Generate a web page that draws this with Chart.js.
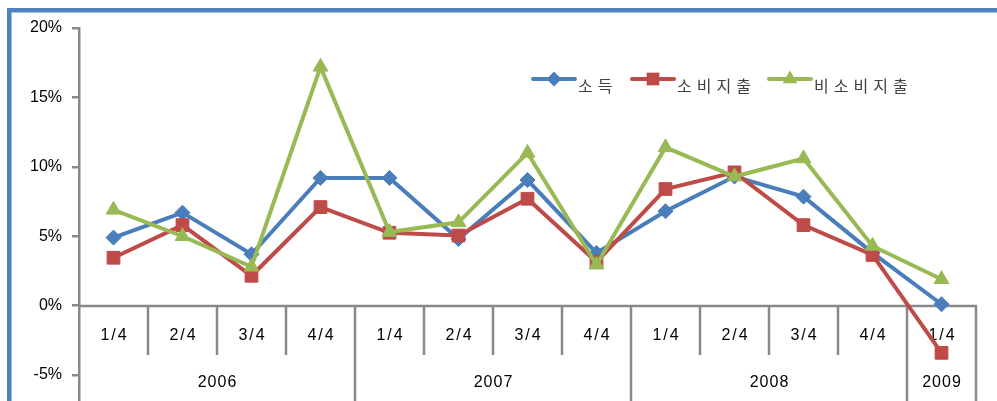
<!DOCTYPE html>
<html>
<head>
<meta charset="utf-8">
<script src="https://cdn.jsdelivr.net/npm/chart.js@4/dist/chart.umd.min.js"></script>
<style>
  html, body { margin: 0; padding: 0; background: #fff; overflow: hidden; }
  #wrap { position: relative; width: 997px; height: 401px; }
</style>
</head>
<body>
<div id="wrap"><canvas id="c" width="997" height="401"></canvas></div>
<script>
// Quarterly growth rates (%), 2006 Q1 – 2009 Q1
const quarters = ['1/4', '2/4', '3/4', '4/4', '1/4', '2/4', '3/4', '4/4', '1/4', '2/4', '3/4', '4/4', '1/4'];
const years = ['2006', '2007', '2008', '2009'];
const yearSpans = [4, 4, 4, 1];
const income = [4.9, 6.7, 3.7, 9.2, 9.2, 4.8, 9.05, 3.8, 6.8, 9.3, 7.85, 3.8, 0.1];
const consumption = [3.45, 5.8, 2.15, 7.1, 5.25, 5.05, 7.7, 3.15, 8.4, 9.6, 5.8, 3.65, -3.4];
const nonConsumption = [6.9, 5.0, 2.8, 17.2, 5.3, 6.0, 11.0, 2.95, 11.4, 9.3, 10.6, 4.3, 1.9];
const seriesNames = ['소득', '소비지출', '비소비지출'];
const yTicks = [-5, 0, 5, 10, 15, 20];

const BLUE = '#4a7ebb';
const RED = '#be4b48';
const GREEN = '#98b954';
const GRAY = '#898989';
const FRAME = '#4f81bd';
const LATIN = '"Liberation Sans", Arial, sans-serif';
const HANGUL = '"Noto Sans CJK KR", "Noto Sans", sans-serif';

const styles = [
  { color: BLUE, point: 'rectRot', radius: 7.5 },
  { color: RED, point: 'rect', radius: 9 },
  { color: GREEN, point: 'triangle', radius: 8.5 }
];

// left edge of each legend entry
const legendStarts = [533, 632, 769];

function makeDataset(i, values) {
  const s = styles[i];
  return {
    label: seriesNames[i],
    data: values,
    borderColor: s.color,
    backgroundColor: s.color,
    borderWidth: 4,
    pointStyle: s.point,
    pointRadius: s.radius,
    pointBackgroundColor: s.color,
    pointBorderColor: s.color,
    pointBorderWidth: 1,
    tension: 0,
    clip: false,
    order: 3 - i
  };
}

// Blue frame along the top and left edges
const framePlugin = {
  id: 'frame',
  beforeDraw(chart) {
    const ctx = chart.ctx;
    ctx.save();
    ctx.fillStyle = '#ffffff';
    ctx.fillRect(0, 0, chart.width, chart.height);
    ctx.fillStyle = FRAME;
    ctx.fillRect(7, 8, chart.width - 7, 4.5);
    ctx.fillRect(7, 8, 4.5, chart.height - 8);
    ctx.restore();
  }
};

// Two-level category axis crossing the value axis at 0
const categoryAxisPlugin = {
  id: 'categoryAxis',
  beforeDatasetsDraw(chart) {
    const ctx = chart.ctx;
    const xs = chart.scales.x;
    const ys = chart.scales.y;
    const area = chart.chartArea;
    const y0 = Math.round(ys.getPixelForValue(0));
    const n = quarters.length;
    const step = xs.getPixelForValue(1) - xs.getPixelForValue(0);
    const edge = i => xs.getPixelForValue(0) - step / 2 + i * step;

    const yearEdges = [0];
    yearSpans.forEach(s => yearEdges.push(yearEdges[yearEdges.length - 1] + s));

    ctx.save();
    ctx.strokeStyle = GRAY;
    ctx.lineWidth = 2.5;
    ctx.beginPath();
    ctx.moveTo(area.left, y0);
    ctx.lineTo(area.right + 1, y0);
    ctx.stroke();

    for (let i = 1; i <= n; i++) {
      const x = Math.round(edge(i));
      const isYear = yearEdges.includes(i);
      ctx.beginPath();
      ctx.moveTo(x, y0);
      ctx.lineTo(x, isYear ? chart.height : y0 + 49);
      ctx.stroke();
    }

    ctx.fillStyle = '#000';
    ctx.textAlign = 'center';
    ctx.textBaseline = 'middle';
    ctx.font = '16px ' + LATIN;
    ctx.letterSpacing = '2px';
    quarters.forEach((q, i) => {
      ctx.fillText(q, xs.getPixelForValue(i) + 1, y0 + 30);
    });
    ctx.letterSpacing = '1px';
    years.forEach((yr, k) => {
      const cx = (edge(yearEdges[k]) + edge(yearEdges[k + 1])) / 2;
      ctx.fillText(yr, cx + 0.5, y0 + 77);
    });
    ctx.restore();
  }
};

function drawMarker(ctx, style, x, y, r, color) {
  ctx.fillStyle = color;
  ctx.beginPath();
  if (style === 'rectRot') {
    ctx.moveTo(x, y - r); ctx.lineTo(x + r, y); ctx.lineTo(x, y + r); ctx.lineTo(x - r, y);
  } else if (style === 'rect') {
    const h = r * Math.SQRT1_2;
    ctx.rect(x - h, y - h, 2 * h, 2 * h);
  } else {
    const w = r * Math.sqrt(3) / 2;
    ctx.moveTo(x, y - r); ctx.lineTo(x + w, y + r / 2); ctx.lineTo(x - w, y + r / 2);
  }
  ctx.closePath();
  ctx.fill();
}

// Legend: line with marker, then the series name
const legendPlugin = {
  id: 'lineLegend',
  afterDraw(chart) {
    const ctx = chart.ctx;
    ctx.save();
    ctx.font = '16px ' + HANGUL;
    ctx.letterSpacing = '5px';
    ctx.textBaseline = 'middle';
    ctx.textAlign = 'left';
    const ly = 79;
    seriesNames.forEach((name, i) => {
      const s = styles[i];
      const x = legendStarts[i];
      ctx.strokeStyle = s.color;
      ctx.lineWidth = 4;
      ctx.lineCap = 'round';
      ctx.beginPath();
      ctx.moveTo(x, ly);
      ctx.lineTo(x + 42, ly);
      ctx.stroke();
      drawMarker(ctx, s.point, x + 21, ly, s.radius, s.color);
      ctx.fillStyle = '#404040';
      ctx.fillText(name, x + 45, ly + 7);
    });
    ctx.restore();
  }
};

new Chart(document.getElementById('c'), {
  type: 'line',
  data: {
    labels: quarters,
    datasets: [
      makeDataset(0, income),
      makeDataset(1, consumption),
      makeDataset(2, nonConsumption)
    ]
  },
  options: {
    responsive: false,
    animation: false,
    layout: { autoPadding: false, padding: { left: 0, right: 21, top: 28, bottom: 0 } },
    plugins: { legend: { display: false }, tooltip: { enabled: false } },
    scales: {
      x: { display: false, offset: true },
      y: {
        min: -6.87,
        max: 20,
        afterBuildTicks: scale => { scale.ticks = yTicks.map(v => ({ value: v })); },
        afterFit: scale => {
          scale.width = 79;
          scale.paddingTop = 0;
          scale.paddingBottom = 0;
        },
        border: { color: GRAY, width: 2.5 },
        grid: { drawOnChartArea: false, tickLength: 7, color: GRAY, lineWidth: 2.5 },
        ticks: {
          padding: 10,
          color: '#000',
          font: { family: LATIN, size: 16 },
          callback: v => v + '%'
        }
      }
    }
  },
  plugins: [framePlugin, categoryAxisPlugin, legendPlugin]
});
</script>
</body>
</html>
